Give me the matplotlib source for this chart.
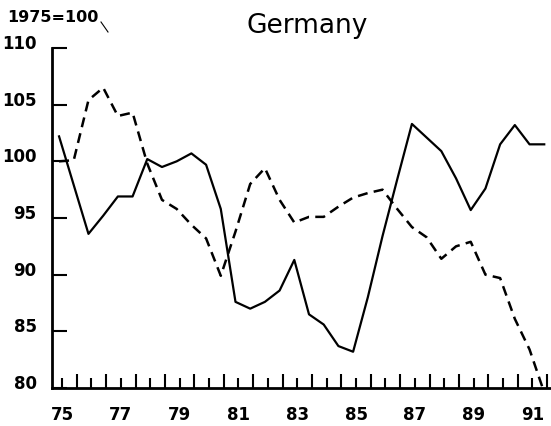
import numpy as np
import matplotlib
matplotlib.use('Agg')
import matplotlib.pyplot as plt
from matplotlib.transforms import ScaledTranslation
from matplotlib.lines import Line2D

# half-yearly observations, 1975 to 1991 (1975=100)
half_years = np.arange(75, 92, 0.5)
solid = [102.2, 97.9, 93.6, 95.2, 96.9, 96.9, 100.2, 99.5, 100.0, 100.7,
         99.7, 95.8, 87.6, 87.0, 87.6, 88.6, 91.3, 86.5, 85.6, 83.7,
         83.2, 88.0, 93.4, 98.4, 103.3, 102.1, 100.9, 98.5, 95.7, 97.6,
         101.5, 103.2, 101.5, 101.5]
dashed = [100.0, 100.1, 105.4, 106.5, 104.0, 104.3, 99.8, 96.6, 95.8, 94.4,
          93.2, 89.9, 93.8, 98.0, 99.4, 96.6, 94.6, 95.1, 95.1, 96.0,
          96.8, 97.2, 97.5, 95.8, 94.2, 93.3, 91.4, 92.5, 92.9, 90.0,
          89.7, 86.1, 83.4, 79.6]

y_ticks = [80, 85, 90, 95, 100, 105, 110]
year_labels = ['75', '77', '79', '81', '83', '85', '87', '89', '91']

fig = plt.figure(figsize=(5.51, 4.26), dpi=100)
ax = fig.add_axes([52/551, 38/426, 499/551, 340/426])

ax.plot(half_years, solid, color='black', lw=1.6)
ax.plot(half_years, dashed, color='black', lw=1.8, linestyle=(0, (4, 2.5)))

ax.set_xlim(74.76, 91.73)
ax.set_ylim(80, 110)
for s in ['top', 'right']:
    ax.spines[s].set_visible(False)
for s in ['left', 'bottom']:
    ax.spines[s].set_linewidth(2)

# y axis: ticks point into the plot, labels sit a little above them
ax.set_yticks(y_ticks)
ax.tick_params(axis='y', direction='in', length=11, width=1.5, pad=11,
               labelsize=12)
shift = ScaledTranslation(0, 0.06, fig.dpi_scale_trans)
for lab in ax.get_yticklabels():
    lab.set_fontweight('bold')
    lab.set_transform(lab.get_transform() + shift)

# x axis: short ticks each year (odd years labelled), longer ticks mid-year
major = [75.1 + n for n in range(17)]
ax.set_xticks(major)
ax.set_xticklabels([year_labels[n // 2] if n % 2 == 0 else '' for n in range(17)],
                   fontweight='bold')
ax.set_xticks([75.6 + n for n in range(17)], minor=True)
ax.tick_params(axis='x', which='major', direction='in', length=7, width=1.5,
               pad=13, labelsize=12)
ax.tick_params(axis='x', which='minor', direction='in', length=10, width=1.5)

fig.text(307/551, 1 - 33/426, 'Germany', fontsize=19, ha='center',
         va='baseline')
fig.text(7/551, 1 - 22/426, '1975=100', fontsize=11.5, fontweight='bold',
         va='baseline')
fig.add_artist(Line2D([101/551, 108/551], [1 - 22/426, 1 - 32/426],
                      transform=fig.transFigure, color='black', lw=0.8))

fig.savefig('out.png', dpi=100)
